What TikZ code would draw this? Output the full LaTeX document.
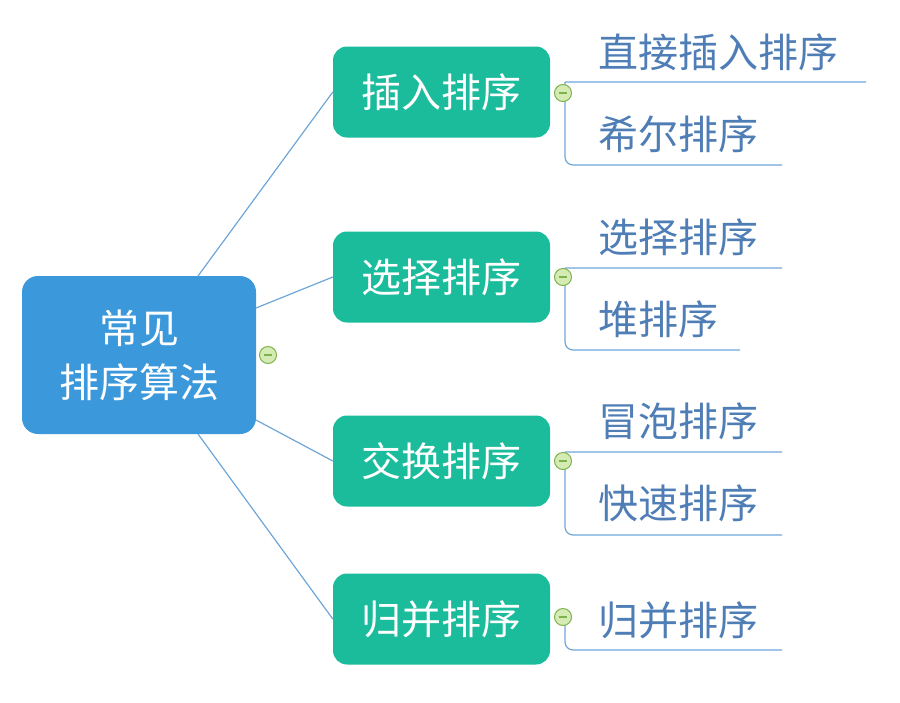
\documentclass[tikz,border=0pt]{standalone}
\usepackage{fontspec}
\setmainfont{Noto Sans CJK SC}
\begin{document}
\begin{tikzpicture}[x=1pt,y=-1pt,
 rootbox/.style={fill=rootc,rounded corners=16pt,text=white,font=\fontsize{40}{54}\selectfont,align=center},
 catbox/.style={fill=catc,rounded corners=14pt,text=white,font=\fontsize{40}{48}\selectfont,minimum width=217pt,minimum height=91pt},
 leaf/.style={text=leafc,font=\fontsize{40}{48}\selectfont,anchor=west,inner sep=0pt},
 link/.style={draw=linec,line width=1.2pt},
 tog/.style={circle,draw=togd,fill=togc,minimum size=17pt,inner sep=0pt,line width=1pt}]
\definecolor{rootc}{HTML}{3A98DB}
\definecolor{catc}{HTML}{1ABC9C}
\definecolor{leafc}{HTML}{4F7DB5}
\definecolor{linec}{HTML}{6EA6D8}
\definecolor{togc}{HTML}{D4ECB4}
\definecolor{togd}{HTML}{7FB24E}
\useasboundingbox (0,0) rectangle (900,702);
\node[rootbox,minimum width=234pt,minimum height=158pt] (root) at (139,355) {常见\\排序算法};
\node[catbox] (c1) at (441.5,92) {插入排序};
\node[catbox] (c2) at (441.5,277) {选择排序};
\node[catbox] (c3) at (441.5,461) {交换排序};
\node[catbox] (c4) at (441.5,619) {归并排序};
\coordinate (r1) at (198,276); \coordinate (r2) at (256,308);
\coordinate (r3) at (256,420); \coordinate (r4) at (198,434);
\draw[link] (r1) -- (c1.west); \draw[link] (r2) -- (c2.west);
\draw[link] (r3) -- (c3.west); \draw[link] (r4) -- (c4.west);
\node[leaf] (l1) at (598,52) {直接插入排序};
\node[leaf] (l2) at (598,134) {希尔排序};
\node[leaf] (l3) at (598,237) {选择排序};
\node[leaf] (l4) at (598,319) {堆排序};
\node[leaf] (l5) at (598,421) {冒泡排序};
\node[leaf] (l6) at (598,503) {快速排序};
\node[leaf] (l7) at (598,620) {归并排序};
\coordinate (a1) at (866,82); \coordinate (a2) at (782,165);
\coordinate (a3) at (782,268); \coordinate (a4) at (740,350);
\coordinate (a5) at (782,452); \coordinate (a6) at (782,535);
\coordinate (a7) at (782,650);
\draw[link,rounded corners=8pt] (565,82) -- (a1) (565,82) |- (a2);
\draw[link,rounded corners=8pt] (565,268) -- (a3) (565,268) |- (a4);
\draw[link,rounded corners=8pt] (565,452) -- (a5) (565,452) |- (a6);
\draw[link,rounded corners=8pt] (565,617) |- (a7);
\foreach \n/\p in {t0/{268,355},t1/{563,93},t2/{563,277},t3/{563,461},t4/{563,617}}{
 \node[tog] (\n) at (\p) {};
 \draw[togd,line width=1.2pt] ([xshift=-4pt]\n.center) -- ([xshift=4pt]\n.center);
}
\end{tikzpicture}
\end{document}
